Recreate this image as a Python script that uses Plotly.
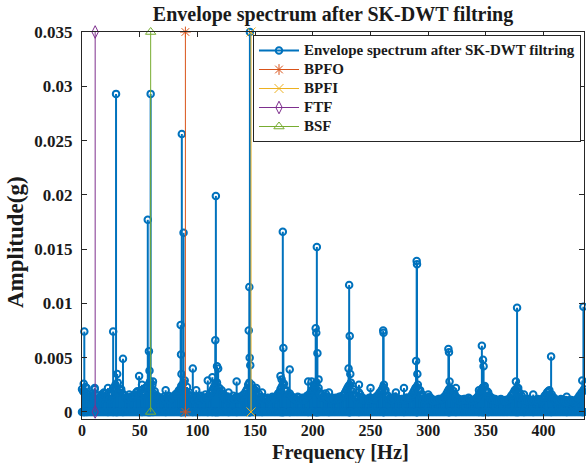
import plotly.graph_objects as go

# ---------------- data ----------------
# noise floor of the envelope spectrum (units: 1e-4 g)
# odd-Hz samples: 1, 3, 5, ... 435 Hz
noise_odd_1e4 = [
    19, 23, 16, 14, 17, 21, 15, 13, 16, 18, 14, 17, 15, 22, 25,
    27, 20, 17, 15, 13, 16, 14, 15, 18, 16, 20, 17, 22, 24, 28,
    25, 19, 15, 13, 12, 14, 13, 15, 12, 14, 16, 18, 21, 25, 29,
    23, 18, 15, 13, 14, 12, 15, 13, 16, 14, 17, 20, 24, 27, 22,
    20, 16, 14, 13, 12, 15, 13, 12, 14, 15, 17, 21, 27, 25, 21,
    22, 17, 14, 13, 12, 13, 11, 14, 12, 15, 18, 23, 26, 20, 16,
    15, 13, 12, 14, 11, 13, 12, 15, 16, 19, 23, 27, 22, 17, 14,
    17, 14, 12, 13, 11, 12, 14, 13, 16, 20, 24, 27, 21, 15, 13,
    16, 13, 12, 11, 13, 12, 11, 14, 16, 19, 23, 20, 15, 13, 12,
    14, 13, 11, 12, 11, 13, 12, 14, 18, 22, 25, 20, 16, 13, 12,
    14, 12, 11, 10, 12, 11, 13, 15, 19, 22, 20, 16, 13, 12, 11,
    12, 11, 13, 10, 11, 12, 14, 18, 22, 24, 19, 15, 13, 12, 11,
    11, 12, 10, 11, 10, 13, 16, 20, 22, 18, 15, 12, 11, 12, 10,
    11, 10, 12, 9, 12, 15, 18, 20, 16, 13, 11, 10, 12, 9, 11,
    10, 11, 9, 10, 12, 15, 18, 21,
]
# even-Hz samples: 0, 2, 4, ... 434 Hz
noise_even_1e4 = [
    21, 18, 14, 12, 15, 13, 16, 12, 11, 14, 17, 13, 12, 16, 20,
    22, 18, 21, 16, 13, 12, 14, 13, 16, 19, 15, 18, 16, 23, 26,
    21, 17, 14, 12, 13, 11, 12, 14, 11, 13, 15, 17, 20, 24, 27,
    19, 16, 14, 12, 10, 13, 11, 14, 12, 13, 15, 18, 22, 25, 20,
    18, 15, 12, 11, 13, 11, 12, 14, 12, 13, 16, 19, 25, 23, 19,
    20, 15, 13, 11, 13, 12, 10, 12, 13, 14, 17, 21, 25, 19, 15,
    17, 14, 12, 11, 13, 12, 11, 13, 15, 18, 21, 25, 20, 16, 13,
    15, 12, 13, 11, 12, 13, 12, 14, 15, 18, 22, 25, 19, 14, 12,
    18, 14, 11, 12, 11, 13, 12, 13, 15, 18, 21, 19, 14, 12, 11,
    13, 12, 12, 11, 12, 11, 13, 13, 16, 20, 23, 19, 15, 12, 11,
    12, 13, 10, 11, 11, 12, 12, 14, 17, 21, 18, 15, 12, 11, 10,
    11, 12, 11, 12, 10, 11, 13, 16, 20, 23, 18, 14, 12, 11, 12,
    10, 11, 11, 10, 11, 12, 15, 18, 21, 17, 13, 11, 12, 10, 11,
    10, 11, 10, 11, 10, 13, 16, 19, 15, 12, 10, 11, 10, 11, 10,
    9, 10, 11, 9, 11, 13, 16, 19,
]

# distinct spectral lines (Hz, g)
peak_freqs = [
    1.5, 2, 4, 11, 22.5, 27, 29.5, 30.5, 35.5,
    49.5, 52, 57, 58, 58.5, 59.5, 61.5, 72.5,
    85.5, 85.8, 86.2, 86.5, 88, 96, 99,
    109, 113, 115.5, 116, 117, 118, 127, 134,
    144.5, 145, 145.3, 145.8, 145.5, 156,
    172, 173, 174, 174.5, 180, 196, 199,
    202.5, 203, 203.5, 204, 205, 214,
    231, 231.5, 232, 232.5, 240, 250,
    261, 261.3, 261.6, 272, 279,
    289.5, 290, 290.3, 290.6, 300,
    317.5, 318, 318.5, 324, 344, 346.5, 347.5, 348, 352,
    376, 377, 378, 383, 391, 406.5, 420, 433.5, 434.5,
]
peak_amps = [
    0.0026, 0.0074, 0.0022, 0.0022, 0.0022, 0.0074, 0.0293, 0.0035, 0.0049,
    0.0033, 0.0025, 0.0177, 0.0056, 0.0038, 0.0293, 0.0028, 0.0020,
    0.0080, 0.0053, 0.0035, 0.0256, 0.0165, 0.0040, 0.0020,
    0.0029, 0.0032, 0.0066, 0.0199, 0.0042, 0.0040, 0.0018, 0.0028,
    0.0075, 0.0115, 0.0050, 0.0043, 0.0350, 0.0018,
    0.0033, 0.0030, 0.0166, 0.0059, 0.0039, 0.0028, 0.0028,
    0.0077, 0.0073, 0.0152, 0.0054, 0.0030, 0.0018,
    0.0040, 0.0117, 0.0070, 0.0035, 0.0025, 0.0022,
    0.0075, 0.0073, 0.0025, 0.0018, 0.0022,
    0.0047, 0.0139, 0.0136, 0.0035, 0.0016,
    0.0058, 0.0055, 0.0028, 0.0022, 0.0020, 0.0061, 0.0048, 0.0042, 0.0018,
    0.0028, 0.0096, 0.0022, 0.0016, 0.0016, 0.0051, 0.0014, 0.0029, 0.0097,
]

# bearing defect frequencies (Hz)
fault_names = ["BPFO", "BPFI", "FTF", "BSF"]
fault_freqs = [89.6, 146.5, 11.4, 59.5]
fault_colors = ["#D95319", "#EDB120", "#7E2F8E", "#77AC30"]
fault_symbols = ["asterisk-open", "x-thin-open", "diamond-tall-open", "triangle-up-open"]
fault_top = 0.035

spec_name = "Envelope spectrum after SK-DWT filtring"
x_ticks = [0, 50, 100, 150, 200, 250, 300, 350, 400]
y_ticks = [0, 0.005, 0.01, 0.015, 0.02, 0.025, 0.03, 0.035]
y_ticktext = ["0", "0.005", "0.01", "0.015", "0.02", "0.025", "0.03", "0.035"]

# ---------------- build stems ----------------
freqs = ([1 + 2 * i for i in range(len(noise_odd_1e4))]
         + [2 * i for i in range(len(noise_even_1e4))] + peak_freqs)
amps = [v * 1e-4 for v in noise_odd_1e4] + [v * 1e-4 for v in noise_even_1e4] + peak_amps

sx, sy = [], []
for f, a in zip(freqs, amps):
    sx += [f, f, None]
    sy += [0, a, None]

FONT = "Liberation Serif"
INK = "#1a1a1a"
LEG_TXT = "<span style='font-size:15px'>{}</span>"

fig = go.Figure()
fig.add_trace(go.Scatter(
    x=sx, y=sy, mode="lines+markers", name=LEG_TXT.format(spec_name),
    line=dict(color="#0072BD", width=2),
    marker=dict(symbol="circle-open", size=6.5, color="#0072BD", line=dict(width=2, color="#0072BD")),
    cliponaxis=False,
))
for n, f, c, s in zip(fault_names, fault_freqs, fault_colors, fault_symbols):
    fig.add_trace(go.Scatter(
        x=[f, f], y=[0, fault_top], mode="lines+markers", name=LEG_TXT.format(n),
        line=dict(color=c, width=1),
        marker=dict(symbol=s, size=9, color=c, line=dict(width=1, color=c)),
        cliponaxis=False,
    ))

axis_common = dict(
    showline=True, linecolor="#262626", linewidth=1, mirror="ticks",
    ticks="inside", ticklen=5, tickcolor="#262626", showgrid=False, zeroline=False,
)
fig.update_xaxes(range=[0, 435], tickvals=x_ticks, ticklabelstandoff=-3,
                 tickfont=dict(family=FONT, size=16, color=INK, weight="bold"), **axis_common)
fig.update_yaxes(range=[-0.00065, 0.035], tickvals=y_ticks, ticktext=y_ticktext,
                 ticklabelstandoff=5,
                 tickfont=dict(family=FONT, size=17, color=INK, weight="bold"), **axis_common)

# plot area: x 82..584 px, y 32..419 px
fig.add_annotation(text="Frequency [Hz]", xref="paper", yref="paper",
                   x=(340 - 82) / 502, y=(419 - 452) / 387, xanchor="center", yanchor="middle",
                   showarrow=False, font=dict(family=FONT, size=20.5, color=INK, weight="bold"))
fig.add_annotation(text="Amplitude(g)", xref="paper", yref="paper", textangle=-90,
                   x=(15 - 82) / 502, y=(419 - 242) / 387, xanchor="center", yanchor="middle",
                   showarrow=False, font=dict(family=FONT, size=23, color=INK, weight="bold"))

fig.update_layout(
    width=586, height=463,
    margin=dict(l=82, r=2, t=32, b=44),
    plot_bgcolor="white", paper_bgcolor="white",
    title=dict(text="Envelope spectrum after SK-DWT filtring", x=0.5, xref="paper", xanchor="center",
               y=1 - 14 / 463, yref="container", yanchor="middle",
               font=dict(family=FONT, size=20, color=INK, weight="bold")),
    legend=dict(x=(253 - 82) / 502, y=1 - 3 / 387, xanchor="left", yanchor="top",
                bgcolor="white", bordercolor="#262626", borderwidth=1,
                font=dict(family=FONT, size=12, color=INK, weight="bold"),
                tracegroupgap=0, itemwidth=40),
    showlegend=True,
)

fig.write_html("out.html")
